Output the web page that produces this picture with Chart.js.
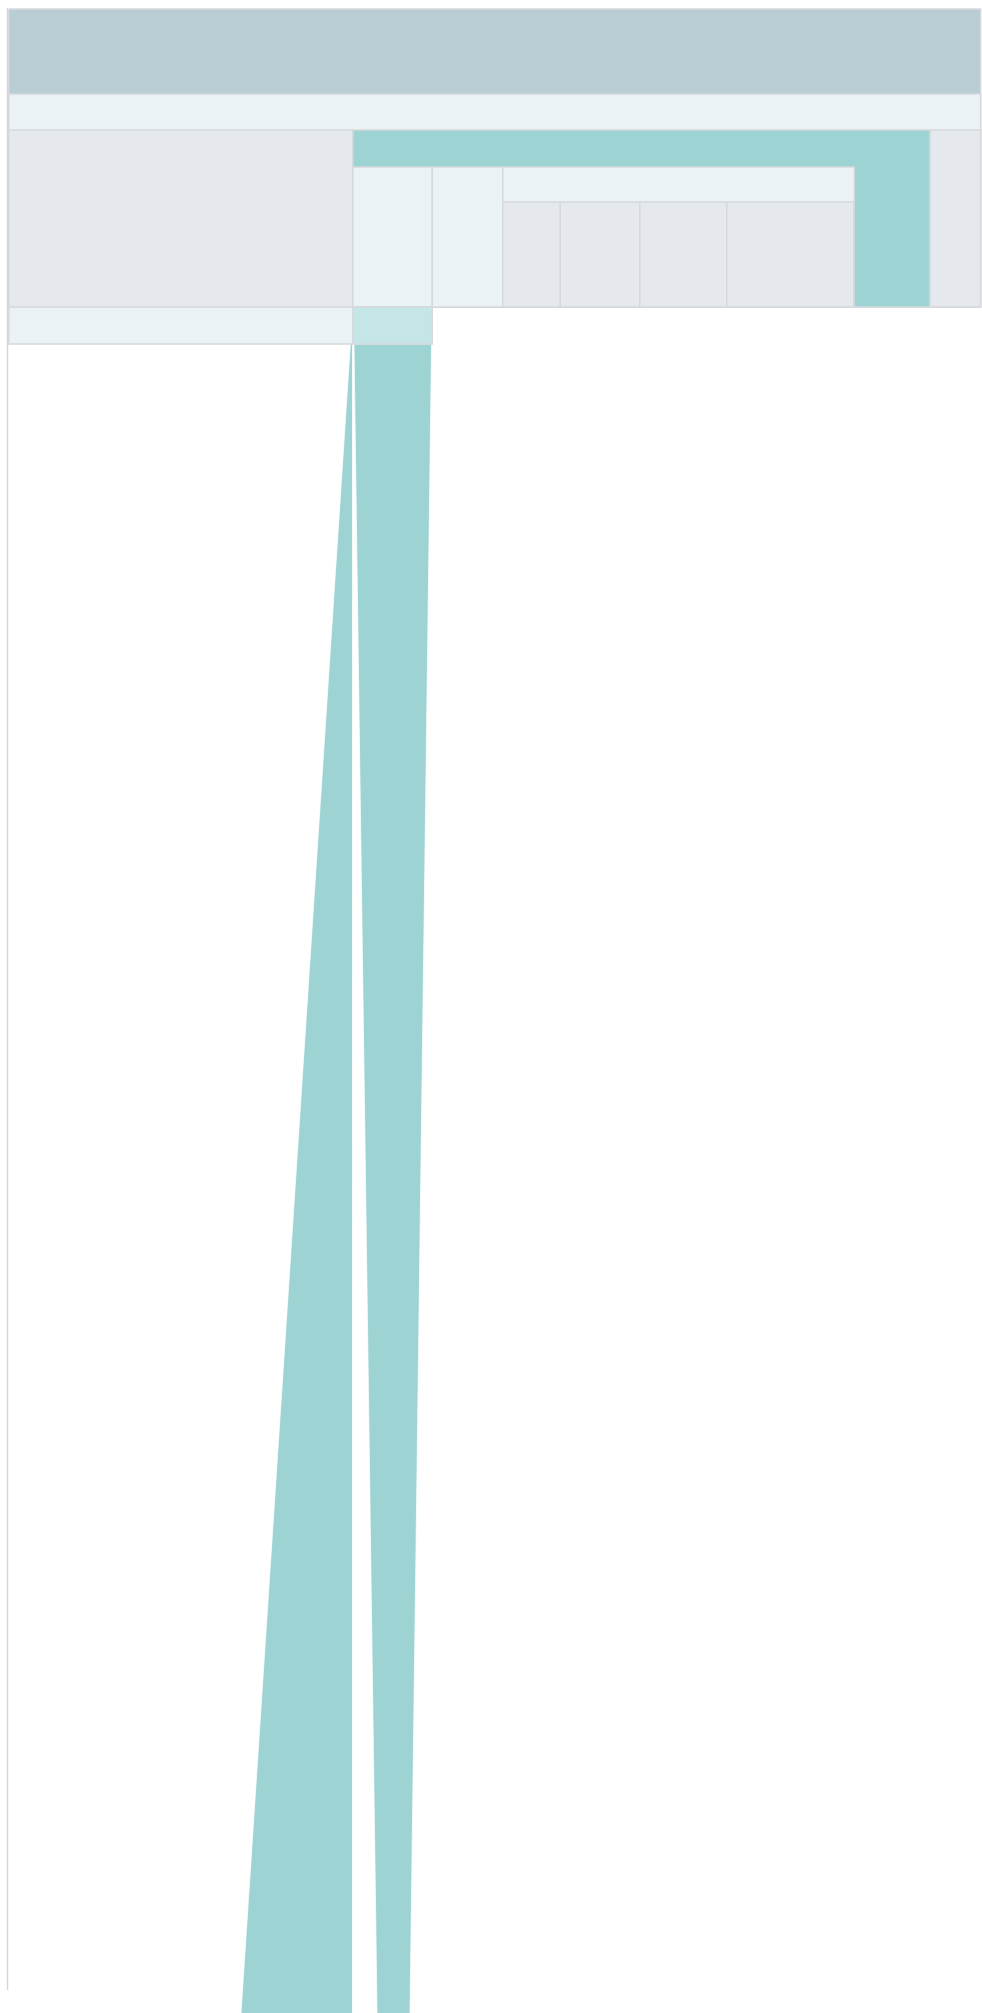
<!DOCTYPE html>
<html>
<head>
<meta charset="utf-8">
<script src="https://cdn.jsdelivr.net/npm/chart.js@4.4.1/dist/chart.umd.min.js"></script>
<style>
  html, body { margin: 0; padding: 0; background: #ffffff; }
  #wrap { width: 982px; height: 2013px; }
</style>
</head>
<body>
<div id="wrap"><canvas id="c" width="982" height="2013"></canvas></div>
<script>
// ---- data (icicle nodes: value share in %, depth level) ----
const nodeNames  = ['root', 'all', 'A', 'B', 'C', 'B1', 'B2', 'B3', 'B3a', 'B3b', 'B3c', 'B3d'];
const nodeParent = [null, 'root', 'all', 'all', 'all', 'B', 'B', 'B', 'B3', 'B3', 'B3', 'B3'];
const nodeValue  = [100, 100, 35.4, 59.4, 5.2, 8.18, 7.25, 36.17, 5.92, 8.18, 8.95, 13.07];
const nodeDepth  = [0, 1, 2, 2, 2, 3, 3, 3, 4, 4, 4, 4];
// y-axis level boundaries (axis units)
const levelEdges = [9, 94, 130, 167, 202];
const levelBottom = 307;
// trailing row under the block
const tailNodes = ['A', 'B1'];
const tailEdges = [307, 344];
// stretched wedges below (run past the bottom edge of the page)
const wedgeX = [[35.4, 35.4, 23.58], [35.52, 43.5, 41.22, 37.96]];
const wedgeY = [[307, 2060, 2060], [344, 344, 2060, 2060]];

// ---- styles ----
const C_ROOT = '#b8cdd4', C_LIGHT = '#eaf2f5', C_GREY = '#e5e9ee', C_TEAL = '#9dd3d3', C_TEAL_L = '#c5e6e7';
const nodeColor = {root: C_ROOT, all: C_LIGHT, A: C_GREY, B: C_TEAL, C: C_GREY,
  B1: C_LIGHT, B2: C_LIGHT, B3: C_LIGHT, B3a: C_GREY, B3b: C_GREY, B3c: C_GREY, B3d: C_GREY};
const tailColor = {A: C_LIGHT, B1: C_TEAL_L};
const EDGE = '#d6d9dc';

// layout of nodes: start positions from parent's start + preceding siblings
const start = {}, width = {};
nodeNames.forEach((n, i) => {
  const p = nodeParent[i];
  width[n] = nodeValue[i];
  if (p === null) { start[n] = 0; return; }
  let s = start[p];
  for (let j = 0; j < i; j++) if (nodeParent[j] === p) s += nodeValue[j];
  start[n] = s;
});

function rect(x0, x1, y0, y1) {
  return [{x: x0, y: y0}, {x: x1, y: y0}, {x: x1, y: y1}, {x: x0, y: y1}, {x: x0, y: y0}];
}
const shapes = [];
wedgeX.forEach((xs, k) => {
  const pts = xs.map((x, i) => ({x, y: wedgeY[k][i]}));
  pts.push(pts[0]);
  shapes.push({data: pts, bg: C_TEAL, bc: 'rgba(255,255,255,0.7)', bw: 1});
});
nodeNames.forEach((n, i) => {
  shapes.push({data: rect(start[n], start[n] + width[n], levelEdges[nodeDepth[i]], levelBottom),
    bg: nodeColor[n], bc: EDGE, bw: 1.5});
});
tailNodes.forEach(n => {
  shapes.push({data: rect(start[n], start[n] + width[n], tailEdges[0], tailEdges[1]),
    bg: tailColor[n], bc: EDGE, bw: 1.5});
});
// outer frame line on the left
shapes.push({data: [{x: -0.134, y: 8}, {x: -0.134, y: 1990}], bg: 'transparent', bc: '#d6d6d6', bw: 1.5, nofill: true});

const datasets = shapes.map((s, i) => ({
  data: s.data,
  fill: s.nofill ? false : 'shape',
  backgroundColor: s.bg,
  borderColor: s.bc,
  borderWidth: s.bw,
  pointRadius: 0,
  pointHoverRadius: 0,
  tension: 0,
  showLine: true,
  order: shapes.length - i
}));

new Chart(document.getElementById('c'), {
  type: 'line',
  data: {datasets},
  options: {
    responsive: false,
    animation: false,
    events: [],
    devicePixelRatio: 1,
    layout: {padding: 0},
    plugins: {legend: {display: false}, tooltip: {enabled: false}, title: {display: false}},
    scales: {
      x: {type: 'linear', min: -0.906, max: 100.144, display: false},
      y: {type: 'linear', min: 0, max: 2013, reverse: true, display: false}
    }
  }
});
</script>
</body>
</html>
